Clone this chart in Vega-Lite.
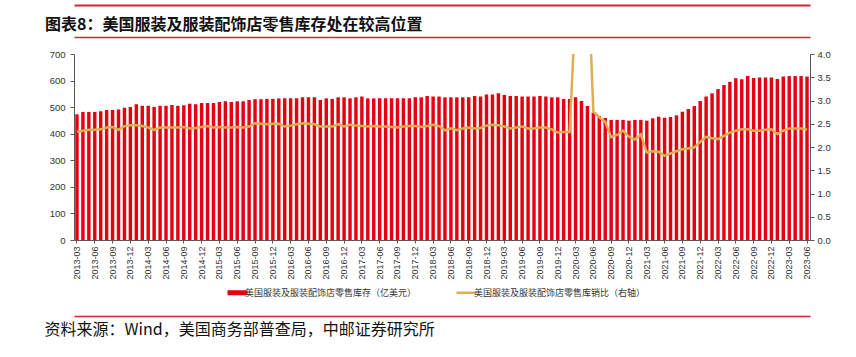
{
  "$schema": "https://vega.github.io/schema/vega-lite/v6.json",
  "width": 736,
  "height": 186,
  "autosize": {"type": "none"},
  "padding": {"left": 74, "top": 54, "right": 46, "bottom": 117},
  "background": "white",
  "title": {
    "text": "图表8：美国服装及服装配饰店零售库存处在较高位置",
    "anchor": "start",
    "frame": "group",
    "orient": "top",
    "offset": 0,
    "dx": -29,
    "dy": 41,
    "baseline": "alphabetic",
    "font": "Noto Sans CJK SC",
    "fontSize": 16,
    "fontWeight": "bold",
    "color": "#111111"
  },
  "config": {
    "view": {"stroke": null},
    "axis": {
      "labelFont": "Liberation Sans",
      "labelFontSize": 9.5,
      "labelColor": "#333333",
      "domainColor": "#595959",
      "tickColor": "#595959",
      "grid": false
    }
  },
  "data": {
    "values": [
      {"m": "2013-03", "v": 473, "r": 2.33}, {"m": "2013-04", "v": 482, "r": 2.35}, {"m": "2013-05", "v": 482, "r": 2.37},
      {"m": "2013-06", "v": 482, "r": 2.37}, {"m": "2013-07", "v": 485, "r": 2.38}, {"m": "2013-08", "v": 489, "r": 2.42},
      {"m": "2013-09", "v": 489, "r": 2.43}, {"m": "2013-10", "v": 491, "r": 2.37}, {"m": "2013-11", "v": 498, "r": 2.45},
      {"m": "2013-12", "v": 501, "r": 2.47}, {"m": "2014-01", "v": 511, "r": 2.47}, {"m": "2014-02", "v": 505, "r": 2.45},
      {"m": "2014-03", "v": 505, "r": 2.42}, {"m": "2014-04", "v": 501, "r": 2.37}, {"m": "2014-05", "v": 505, "r": 2.42},
      {"m": "2014-06", "v": 505, "r": 2.42}, {"m": "2014-07", "v": 508, "r": 2.42}, {"m": "2014-08", "v": 505, "r": 2.42},
      {"m": "2014-09", "v": 507, "r": 2.43}, {"m": "2014-10", "v": 513, "r": 2.40}, {"m": "2014-11", "v": 511, "r": 2.41},
      {"m": "2014-12", "v": 516, "r": 2.43}, {"m": "2015-01", "v": 516, "r": 2.45}, {"m": "2015-02", "v": 516, "r": 2.42},
      {"m": "2015-03", "v": 519, "r": 2.43}, {"m": "2015-04", "v": 522, "r": 2.42}, {"m": "2015-05", "v": 519, "r": 2.42},
      {"m": "2015-06", "v": 522, "r": 2.43}, {"m": "2015-07", "v": 522, "r": 2.42}, {"m": "2015-08", "v": 527, "r": 2.44},
      {"m": "2015-09", "v": 530, "r": 2.51}, {"m": "2015-10", "v": 530, "r": 2.50}, {"m": "2015-11", "v": 531, "r": 2.49},
      {"m": "2015-12", "v": 531, "r": 2.50}, {"m": "2016-01", "v": 533, "r": 2.50}, {"m": "2016-02", "v": 533, "r": 2.44},
      {"m": "2016-03", "v": 533, "r": 2.46}, {"m": "2016-04", "v": 533, "r": 2.49}, {"m": "2016-05", "v": 537, "r": 2.51},
      {"m": "2016-06", "v": 537, "r": 2.50}, {"m": "2016-07", "v": 537, "r": 2.49}, {"m": "2016-08", "v": 527, "r": 2.44},
      {"m": "2016-09", "v": 533, "r": 2.44}, {"m": "2016-10", "v": 531, "r": 2.44}, {"m": "2016-11", "v": 537, "r": 2.49},
      {"m": "2016-12", "v": 537, "r": 2.44}, {"m": "2017-01", "v": 533, "r": 2.48}, {"m": "2017-02", "v": 537, "r": 2.46},
      {"m": "2017-03", "v": 540, "r": 2.45}, {"m": "2017-04", "v": 533, "r": 2.44}, {"m": "2017-05", "v": 533, "r": 2.45},
      {"m": "2017-06", "v": 533, "r": 2.44}, {"m": "2017-07", "v": 533, "r": 2.44}, {"m": "2017-08", "v": 533, "r": 2.43},
      {"m": "2017-09", "v": 533, "r": 2.42}, {"m": "2017-10", "v": 533, "r": 2.44}, {"m": "2017-11", "v": 533, "r": 2.45},
      {"m": "2017-12", "v": 537, "r": 2.45}, {"m": "2018-01", "v": 537, "r": 2.43}, {"m": "2018-02", "v": 542, "r": 2.45},
      {"m": "2018-03", "v": 540, "r": 2.48}, {"m": "2018-04", "v": 540, "r": 2.45}, {"m": "2018-05", "v": 537, "r": 2.36},
      {"m": "2018-06", "v": 537, "r": 2.40}, {"m": "2018-07", "v": 537, "r": 2.36}, {"m": "2018-08", "v": 537, "r": 2.40},
      {"m": "2018-09", "v": 537, "r": 2.42}, {"m": "2018-10", "v": 542, "r": 2.40}, {"m": "2018-11", "v": 540, "r": 2.41},
      {"m": "2018-12", "v": 548, "r": 2.46}, {"m": "2019-01", "v": 548, "r": 2.48}, {"m": "2019-02", "v": 552, "r": 2.47},
      {"m": "2019-03", "v": 546, "r": 2.44}, {"m": "2019-04", "v": 542, "r": 2.40}, {"m": "2019-05", "v": 542, "r": 2.42},
      {"m": "2019-06", "v": 540, "r": 2.44}, {"m": "2019-07", "v": 540, "r": 2.40}, {"m": "2019-08", "v": 540, "r": 2.40},
      {"m": "2019-09", "v": 542, "r": 2.42}, {"m": "2019-10", "v": 540, "r": 2.42}, {"m": "2019-11", "v": 537, "r": 2.38},
      {"m": "2019-12", "v": 537, "r": 2.31}, {"m": "2020-01", "v": 531, "r": 2.32}, {"m": "2020-02", "v": 531, "r": 2.32},
      {"m": "2020-03", "v": 537, "r": 5.0}, {"m": "2020-04", "v": 523, "r": 14.0}, {"m": "2020-05", "v": 504, "r": 6.0},
      {"m": "2020-06", "v": 479, "r": 2.76}, {"m": "2020-07", "v": 467, "r": 2.64}, {"m": "2020-08", "v": 459, "r": 2.54},
      {"m": "2020-09", "v": 452, "r": 2.21}, {"m": "2020-10", "v": 452, "r": 2.26}, {"m": "2020-11", "v": 452, "r": 2.35},
      {"m": "2020-12", "v": 449, "r": 2.22}, {"m": "2021-01", "v": 452, "r": 2.16}, {"m": "2021-02", "v": 452, "r": 2.27},
      {"m": "2021-03", "v": 449, "r": 1.88}, {"m": "2021-04", "v": 458, "r": 1.91}, {"m": "2021-05", "v": 464, "r": 1.90},
      {"m": "2021-06", "v": 460, "r": 1.81}, {"m": "2021-07", "v": 463, "r": 1.86}, {"m": "2021-08", "v": 469, "r": 1.91},
      {"m": "2021-09", "v": 483, "r": 1.95}, {"m": "2021-10", "v": 493, "r": 1.97}, {"m": "2021-11", "v": 504, "r": 1.99},
      {"m": "2021-12", "v": 523, "r": 2.11}, {"m": "2022-01", "v": 540, "r": 2.22}, {"m": "2022-02", "v": 552, "r": 2.19},
      {"m": "2022-03", "v": 568, "r": 2.17}, {"m": "2022-04", "v": 583, "r": 2.24}, {"m": "2022-05", "v": 595, "r": 2.31},
      {"m": "2022-06", "v": 609, "r": 2.35}, {"m": "2022-07", "v": 605, "r": 2.38}, {"m": "2022-08", "v": 617, "r": 2.38},
      {"m": "2022-09", "v": 610, "r": 2.35}, {"m": "2022-10", "v": 612, "r": 2.35}, {"m": "2022-11", "v": 612, "r": 2.37},
      {"m": "2022-12", "v": 612, "r": 2.38}, {"m": "2023-01", "v": 606, "r": 2.28}, {"m": "2023-02", "v": 615, "r": 2.35},
      {"m": "2023-03", "v": 617, "r": 2.40}, {"m": "2023-04", "v": 617, "r": 2.40}, {"m": "2023-05", "v": 617, "r": 2.40},
      {"m": "2023-06", "v": 615, "r": 2.37}
    ]
  },
  "layer": [
    {
      "mark": {"type": "bar", "color": "#E60012"},
      "encoding": {
        "x": {
          "field": "m",
          "type": "ordinal",
          "sort": null,
          "scale": {"paddingInner": 0.42, "paddingOuter": 0.21},
          "axis": {
            "orient": "bottom",
            "values": ["2013-03","2013-06","2013-09","2013-12","2014-03","2014-06","2014-09","2014-12","2015-03","2015-06","2015-09","2015-12","2016-03","2016-06","2016-09","2016-12","2017-03","2017-06","2017-09","2017-12","2018-03","2018-06","2018-09","2018-12","2019-03","2019-06","2019-09","2019-12","2020-03","2020-06","2020-09","2020-12","2021-03","2021-06","2021-09","2021-12","2022-03","2022-06","2022-09","2022-12","2023-03","2023-06"],
            "labelAngle": -90,
            "labelFontSize": 9,
            "tickSize": 3,
            "labelPadding": 3,
            "title": "资料来源：Wind，美国商务部普查局，中邮证券研究所",
            "titleFont": "Noto Sans CJK SC",
            "titleFontSize": 16,
            "titleFontWeight": "normal",
            "titleColor": "#111111",
            "titleAnchor": "start",
            "titleAlign": "left",
            "titleBaseline": "alphabetic",
            "titleX": -30,
            "titleY": 94
          }
        },
        "y": {
          "field": "v",
          "type": "quantitative",
          "scale": {"domain": [0, 700]},
          "axis": {"orient": "left", "values": [0, 100, 200, 300, 400, 500, 600, 700], "title": null, "tickSize": 4, "labelPadding": 5}
        },
        "color": {
          "datum": "美国服装及服装配饰店零售库存（亿美元）",
          "type": "nominal",
          "scale": {
            "domain": ["美国服装及服装配饰店零售库存（亿美元）", "美国服装及服装配饰店零售库销比（右轴）"],
            "range": ["#E60012", "#DEAE55"]
          },
          "legend": {
            "orient": "none",
            "legendX": 159,
            "legendY": 234,
            "direction": "horizontal",
            "title": null,
            "labelFont": "Noto Sans CJK SC",
            "labelFontSize": 9,
            "labelColor": "#333333",
            "labelLimit": 400,
            "labelOffset": 3,
            "columnPadding": 34,
            "symbolSize": 400,
            "symbolOpacity": 1,
            "encode": {
              "symbols": {
                "update": {
                  "shape": {"signal": "datum.index === 0 ? 'M-1,-0.25H1V0.25H-1Z' : 'M-1,0H1'"},
                  "fill": {"signal": "datum.index === 0 ? '#E60012' : 'transparent'"},
                  "stroke": {"signal": "datum.index === 0 ? '#E60012' : '#DEAE55'"},
                  "strokeWidth": {"signal": "datum.index === 0 ? 0 : 2.5"}
                }
              }
            }
          }
        }
      }
    },
    {
      "mark": {"type": "line", "clip": true, "strokeWidth": 2.5, "color": "#DEAE55"},
      "encoding": {
        "x": {
          "field": "m",
          "type": "ordinal",
          "sort": null,
          "axis": {"orient": "bottom", "labels": false, "ticks": false, "title": null, "domainColor": "#D22630", "domainWidth": 1.5, "offset": -203}
        },
        "y": {
          "field": "r",
          "type": "quantitative",
          "scale": {"domain": [0, 4]},
          "axis": {"orient": "right", "values": [0, 0.5, 1, 1.5, 2, 2.5, 3, 3.5, 4], "format": ".1f", "title": null, "tickSize": 4, "labelPadding": 3}
        },
        "color": {"datum": "美国服装及服装配饰店零售库销比（右轴）", "type": "nominal"}
      }
    },
    {
      "mark": {"type": "rule", "opacity": 0},
      "encoding": {
        "x": {
          "field": "m",
          "type": "ordinal",
          "sort": null,
          "axis": {"orient": "bottom", "labels": false, "ticks": false, "title": null, "domainColor": "#D22630", "domainWidth": 2, "offset": -235}
        }
      }
    },
    {
      "mark": {"type": "rule", "opacity": 0},
      "encoding": {
        "x": {
          "field": "m",
          "type": "ordinal",
          "sort": null,
          "axis": {"orient": "bottom", "labels": false, "ticks": false, "title": null, "domainColor": "#D22630", "domainWidth": 1.5, "offset": 76}
        }
      }
    }
  ],
  "resolve": {
    "scale": {"y": "independent"},
    "axis": {"x": "independent", "y": "independent"}
  }
}
